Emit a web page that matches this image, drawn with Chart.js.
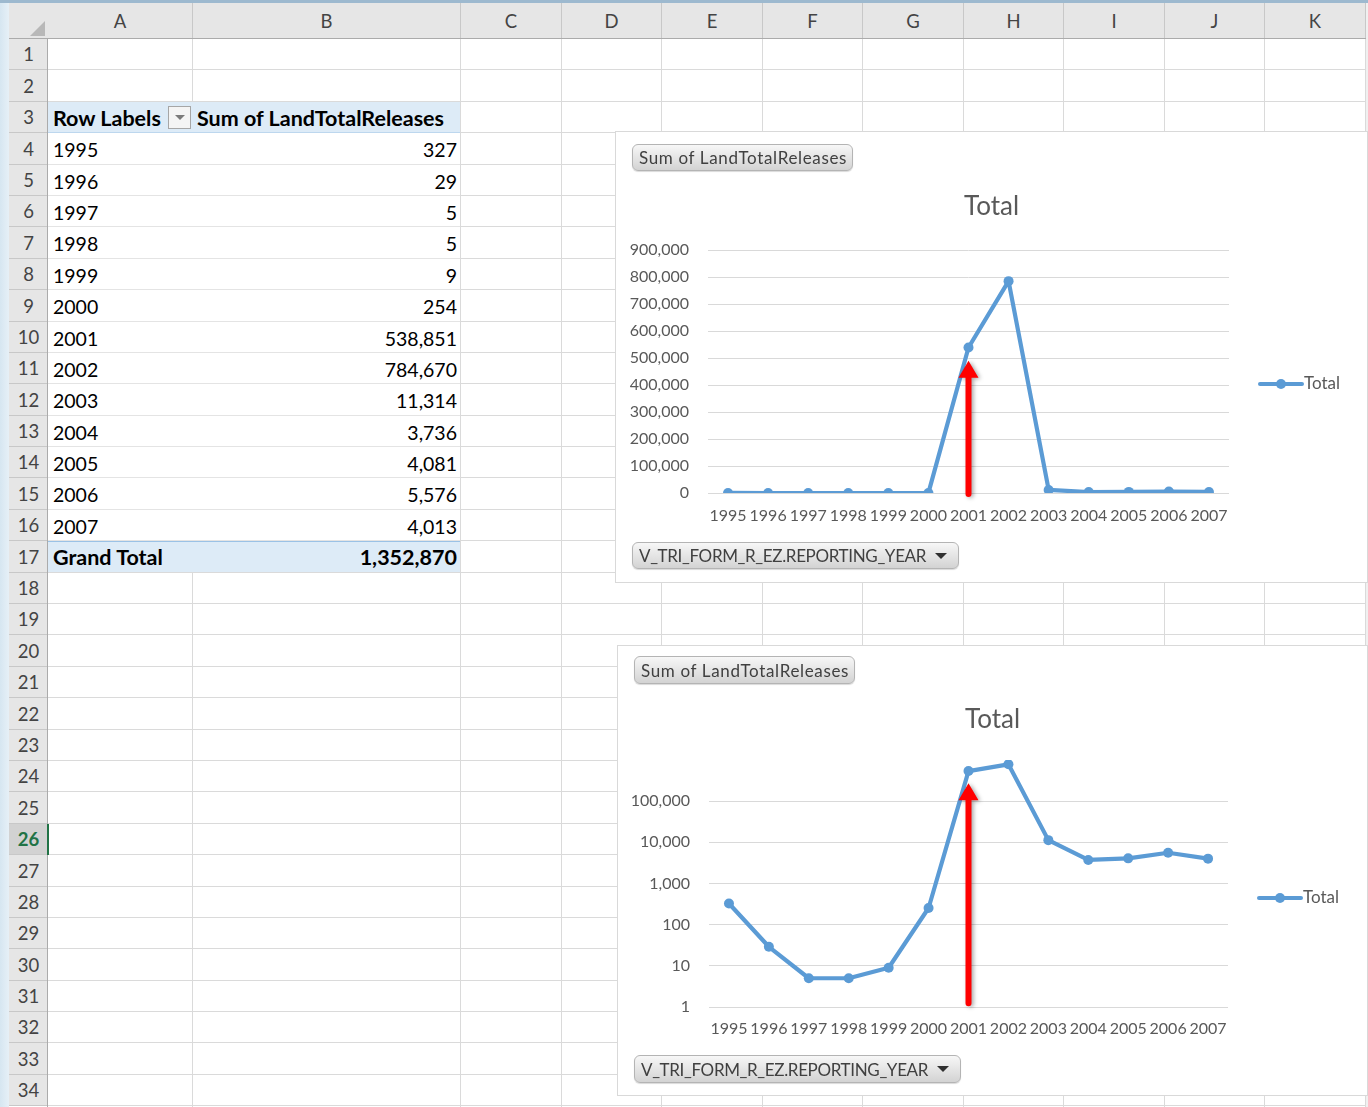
<!DOCTYPE html>
<html><head><meta charset="utf-8">
<script src="https://cdn.jsdelivr.net/npm/chart.js@4.4.0/dist/chart.umd.min.js"></script>
<style>
html,body{margin:0;padding:0;background:#fff;}
body{width:1368px;height:1107px;position:relative;overflow:hidden;font-family:Lato,'Open Sans',sans-serif;}
.a{position:absolute;box-sizing:border-box;}
.hdr{background:#E6E6E6;color:#444;font-size:18.5px;display:flex;align-items:center;justify-content:center;}
.cell{font-size:19.5px;color:#000;display:flex;align-items:center;white-space:nowrap;}
.cell.b{font-weight:bold;font-size:21.5px;}
.chartbox{position:absolute;background:#fff;outline:1px solid #D9D9D9;}
.chartbox canvas{position:absolute;left:0;top:0;}
.pbtn{position:absolute;box-sizing:border-box;border:1px solid #B4B4B4;border-radius:6px;
 background:linear-gradient(#F7F7F7,#D3D3D3);color:#404040;font-size:17px;display:flex;align-items:center;
 padding-left:6px;white-space:nowrap;box-shadow:0 1px 1px rgba(0,0,0,0.15);}
.pbtn.s{letter-spacing:0.65px;}
.pbtn.y{letter-spacing:-0.35px;}
.pbtn .tri{position:absolute;right:11px;top:10px;width:0;height:0;border-left:6px solid transparent;border-right:6px solid transparent;border-top:6px solid #303030;}
</style></head><body>
<div id="sheet"></div>

<div class="chartbox" style="left:616px;top:132px;width:751px;height:450px">
  <canvas id="c1" width="751" height="450"></canvas>
  <div class="pbtn s" style="left:16px;top:12px;width:221px;height:27px">Sum of LandTotalReleases</div>
  <div class="pbtn y" style="left:16px;top:410px;width:327px;height:27px">V_TRI_FORM_R_EZ.REPORTING_YEAR<span class="tri"></span></div>
</div>
<div class="chartbox" style="left:618px;top:646px;width:749px;height:449px">
  <canvas id="c2" width="749" height="449"></canvas>
  <div class="pbtn s" style="left:16px;top:10px;width:221px;height:28px">Sum of LandTotalReleases</div>
  <div class="pbtn y" style="left:16px;top:409px;width:327px;height:28px">V_TRI_FORM_R_EZ.REPORTING_YEAR<span class="tri"></span></div>
</div>

<script>
// ---------- data ----------
const years = ['1995','1996','1997','1998','1999','2000','2001','2002','2003','2004','2005','2006','2007'];
const landTotalReleases = [327, 29, 5, 5, 9, 254, 538851, 784670, 11314, 3736, 4081, 5576, 4013];
const grandTotal = 1352870;
const linearTicks = [0,100000,200000,300000,400000,500000,600000,700000,800000,900000];
const logTicks = [1,10,100,1000,10000,100000,1000000];
const seriesName = 'Total';
const chartTitle = 'Total';
const arrowYear = '2001';
const arrowLinear = [0, 490000];   // arrow base / tip values (linear chart)
const arrowLog = [1.3, 273000];    // arrow base / tip values (log chart)

// ---------- spreadsheet ----------
const sheet = document.getElementById('sheet');
function el(cls, css, txt){const d=document.createElement('div');d.className='a '+cls;d.style.cssText=css;if(txt!==undefined)d.textContent=txt;sheet.appendChild(d);return d;}
const colEdges=[48,193,461,562,662,763,863,964,1064,1165,1265,1366];
const colNames=['A','B','C','D','E','F','G','H','I','J','K'];
const RH=31.39, R0=39;
const rt=n=>R0+(n-1)*RH;
// window edges
el('', 'left:0;top:0;width:1368px;height:3px;background:#9DB9CF;');
el('', 'left:0;top:3px;width:9px;height:1104px;background:linear-gradient(90deg,#D6E6F1,#E6F0F7);');
el('', 'left:1366px;top:3px;width:2px;height:1104px;background:#F0F0F0;');
// column headers
el('hdr','left:9px;top:3px;width:39px;height:36px;');
el('','left:30px;top:21px;width:0;height:0;border-left:15px solid transparent;border-bottom:15px solid #B8B8B8;');
for(let i=0;i<colNames.length;i++){
  el('hdr',`left:${colEdges[i]}px;top:3px;width:${colEdges[i+1]-colEdges[i]}px;height:36px;border-right:1px solid #C8C8C8;`,colNames[i]);
}
el('','left:9px;top:38px;width:1357px;height:1px;background:#ABABAB;');
// grid
for(let n=1;n<=34;n++){
  const y=Math.round(rt(n)), h=Math.round(rt(n+1))-y;
  const sel=(n===26);
  el('hdr',`left:9px;top:${y}px;width:39px;height:${h}px;border-bottom:1px solid #C8C8C8;`+(sel?'background:#D2D2D2;color:#217346;font-weight:bold;':''),String(n));
  el('',`left:48px;top:${y+h-1}px;width:1318px;height:1px;background:#DADADA;`);
}
for(let i=1;i<colEdges.length;i++){
  el('',`left:${colEdges[i]-1}px;top:39px;width:1px;height:1068px;background:#DADADA;`);
}
el('','left:47px;top:39px;width:1px;height:1068px;background:#ABABAB;');
el('',`left:47px;top:${Math.round(rt(26))}px;width:2px;height:${Math.round(RH)}px;background:#217346;`);
// pivot table
const pL=48, pM=193, pR=460;
el('',`left:${pL}px;top:${Math.round(rt(3))}px;width:${pR-pL}px;height:${Math.round(rt(18)-rt(3))-1}px;background:#fff;`);
for(let n=4;n<=16;n++){ el('',`left:${pL}px;top:${Math.round(rt(n+1))-1}px;width:${pR-pL}px;height:1px;background:#E4E4E4;`); }
el('',`left:${pL}px;top:${Math.round(rt(3))}px;width:${pR-pL}px;height:${Math.round(RH)}px;background:#DDEBF7;border-bottom:1px solid #BDD7EE;`);
el('cell b',`left:53px;top:${Math.round(rt(3))}px;height:${Math.round(RH)}px;`,'Row Labels');
el('',`left:168px;top:${Math.round(rt(3))+4}px;width:23px;height:23px;background:#F4F4F4;border:1px solid #A6A6A6;`);
el('',`left:175px;top:${Math.round(rt(3))+13}px;width:0;height:0;border-left:5px solid transparent;border-right:5px solid transparent;border-top:5px solid #7A7A7A;`);
el('cell b',`left:197px;top:${Math.round(rt(3))}px;height:${Math.round(RH)}px;`,'Sum of LandTotalReleases');
years.forEach((yr,i)=>{
  const n=4+i, y=Math.round(rt(n))+1;
  el('cell',`left:53px;top:${y}px;height:${Math.round(RH)}px;`,yr);
  el('cell',`left:${pM}px;top:${y}px;width:${pR-pM-3}px;height:${Math.round(RH)}px;justify-content:flex-end;`,landTotalReleases[i].toLocaleString('en-US'));
});
{
  const y=Math.round(rt(17));
  el('',`left:${pL}px;top:${y}px;width:${pR-pL}px;height:${Math.round(RH)}px;background:#DDEBF7;border-top:1px solid #9BC2E6;`);
  el('cell b',`left:53px;top:${y}px;height:${Math.round(RH)}px;`,'Grand Total');
  el('cell b',`left:${pM}px;top:${y}px;width:${pR-pM-3}px;height:${Math.round(RH)}px;justify-content:flex-end;`,grandTotal.toLocaleString('en-US'));
}

// ---------- charts ----------
const BLUE='#5B9BD5', TXT='#595959', GRID='#D9D9D9';
const decor={
  id:'decor',
  afterDraw(chart,args,o){
    const ctx=chart.ctx, xs=chart.scales.x, ys=chart.scales.y;
    // title centred on the whole chart
    ctx.save();
    ctx.fillStyle=TXT;ctx.font='26px Lato';ctx.textAlign='center';ctx.textBaseline='middle';
    ctx.fillText(chartTitle,chart.width/2,o.titleY);
    ctx.restore();
    // arrow
    const ax=xs.getPixelForValue(years.indexOf(o.arrowYear));
    const yTip=ys.getPixelForValue(o.arrow[1]), yBase=ys.getPixelForValue(o.arrow[0])+1;
    ctx.save();
    ctx.shadowColor='rgba(0,0,0,0.35)';ctx.shadowBlur=4;ctx.shadowOffsetX=2;ctx.shadowOffsetY=1;
    ctx.fillStyle='#FF0000';
    const hw=3, headW=10, headH=17;
    ctx.beginPath();
    ctx.moveTo(ax-hw,yBase);ctx.lineTo(ax-hw,yTip+headH);ctx.lineTo(ax-headW,yTip+headH);
    ctx.lineTo(ax,yTip);ctx.lineTo(ax+headW,yTip+headH);ctx.lineTo(ax+hw,yTip+headH);
    ctx.lineTo(ax+hw,yBase);ctx.arc(ax,yBase,hw,0,Math.PI);ctx.closePath();ctx.fill();
    ctx.restore();
    // legend
    const lx=chart.chartArea.right+31, ly=o.legendY;
    ctx.save();
    ctx.strokeStyle=BLUE;ctx.lineWidth=4;ctx.lineCap='round';
    ctx.beginPath();ctx.moveTo(lx,ly);ctx.lineTo(lx+42,ly);ctx.stroke();
    ctx.fillStyle=BLUE;ctx.beginPath();ctx.arc(lx+21,ly,5,0,Math.PI*2);ctx.fill();
    ctx.fillStyle=TXT;ctx.font='17px Lato';ctx.textBaseline='middle';ctx.textAlign='left';
    ctx.fillText(seriesName,lx+44,ly);
    ctx.restore();
  }
};
function ds(){
  return [{label:seriesName,data:landTotalReleases,borderColor:BLUE,backgroundColor:BLUE,borderWidth:4.2,
    pointRadius:5,pointBackgroundColor:BLUE,pointBorderWidth:0,tension:0,borderCapStyle:'round',borderJoinStyle:'round'}];
}
const tickFont={family:'Lato',size:16};
new Chart(document.getElementById('c1'),{
  type:'line',
  data:{labels:years,datasets:ds()},
  options:{
    responsive:false,animation:false,devicePixelRatio:1,
    layout:{padding:{left:0,right:138,top:118,bottom:0}},
    plugins:{legend:{display:false},tooltip:{enabled:false},title:{display:false},
      decor:{arrowYear:arrowYear,arrow:arrowLinear,legendY:252,titleY:75}},
    scales:{
      x:{offset:true,grid:{display:false,drawTicks:false},border:{display:false},
         ticks:{color:TXT,font:tickFont,padding:13,maxRotation:0,autoSkip:false},
         afterFit(s){s.height=89;}},
      y:{min:0,max:900000,afterBuildTicks(s){s.ticks=linearTicks.map(v=>({value:v}));},
         ticks:{color:TXT,font:tickFont,padding:19,autoSkip:false,callback:v=>Number(v).toLocaleString('en-US')},
         grid:{color:GRID,drawTicks:false},border:{display:false},
         afterFit(s){s.width=92;}}
    }
  },
  plugins:[decor]
});
new Chart(document.getElementById('c2'),{
  type:'line',
  data:{labels:years,datasets:ds()},
  options:{
    responsive:false,animation:false,devicePixelRatio:1,
    layout:{padding:{left:0,right:139,top:114,bottom:0}},
    plugins:{legend:{display:false},tooltip:{enabled:false},title:{display:false},
      decor:{arrowYear:arrowYear,arrow:arrowLog,legendY:252,titleY:74}},
    scales:{
      x:{offset:true,grid:{display:false,drawTicks:false},border:{display:false},
         ticks:{color:TXT,font:tickFont,padding:12,maxRotation:0,autoSkip:false},
         afterFit(s){s.height=88;}},
      y:{type:'logarithmic',min:1,max:1000000,afterBuildTicks(s){s.ticks=logTicks.map(v=>({value:v}));},
         ticks:{color:TXT,font:tickFont,padding:19,autoSkip:false,callback:v=>(v>=1000000?'':Number(v).toLocaleString('en-US'))},
         grid:{color:c=>(c.tick&&c.tick.value>=1000000?'rgba(0,0,0,0)':GRID),drawTicks:false},border:{display:false},
         afterFit(s){s.width=91;}}
    }
  },
  plugins:[decor]
});
</script>
</body></html>
